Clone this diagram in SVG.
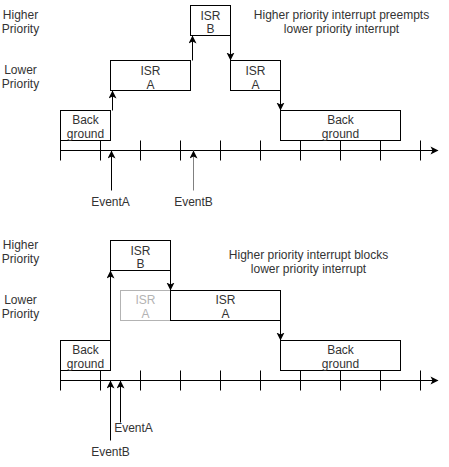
<svg xmlns="http://www.w3.org/2000/svg" width="449" height="467" viewBox="0 0 449 467">
<defs>
<style>
text{font-family:"Liberation Sans",Arial,Helvetica,sans-serif;font-size:12px;fill:#333;text-anchor:middle}
.box{fill:#fff;stroke:#000;stroke-width:1}
.gbox{fill:#fff;stroke:#b3b3b3;stroke-width:1}
.gtxt{fill:#b3b3b3}
.ln{fill:none;stroke:#000;stroke-width:1}
.gln{fill:none;stroke:#808080;stroke-width:1}
.arr{marker-end:url(#ah)}
</style>
<marker id="ah" markerUnits="userSpaceOnUse" markerWidth="10" markerHeight="10" refX="8" refY="4" orient="auto">
<path d="M0,0 L8,4 L0,8 L2,4 z" fill="#000"/>
</marker>
</defs>
<rect width="449" height="467" fill="#fff"/>
<g transform="translate(0.5,0.5)">
<g id="labels">
<text x="20" y="18">Higher</text>
<text x="20" y="32">Priority</text>
<text x="20" y="73">Lower</text>
<text x="20" y="87">Priority</text>
<text x="341" y="18">Higher priority interrupt preempts</text>
<text x="341" y="32">lower priority interrupt</text>
<text x="20" y="248">Higher</text>
<text x="20" y="262">Priority</text>
<text x="20" y="303">Lower</text>
<text x="20" y="317">Priority</text>
<text x="308" y="258">Higher priority interrupt blocks</text>
<text x="308" y="272">lower priority interrupt</text>
</g>
<g id="timeline1">
<path class="ln" d="M60,150 H437"/>
<path d="M438,150 L430,146 L432,150 L430,154 z" fill="#000"/>
<path class="ln" d="M60,140V160M100,140V160M140,140V160M180,140V160M220,140V160M260,140V160M300,140V160M340,140V160M380,140V160M420,140V160"/>
</g>
<g id="timeline2">
<path class="ln" d="M60,380 H437"/>
<path d="M438,380 L430,376 L432,380 L430,384 z" fill="#000"/>
<path class="ln" d="M60,370V390M100,370V390M140,370V390M180,370V390M220,370V390M260,370V390M300,370V390M340,370V390M380,370V390M420,370V390"/>
</g>
<g id="bg1">
<rect class="box" x="60" y="110" width="50" height="30"/>
<text x="85" y="123">Back</text>
<text x="85" y="137">ground</text>
</g>
<g id="isrA1">
<rect class="box" x="110" y="60" width="80" height="30"/>
<text x="150" y="74">ISR</text>
<text x="150" y="88">A</text>
</g>
<g id="isrB1">
<rect class="box" x="190" y="5" width="40" height="30"/>
<text x="210" y="19">ISR</text>
<text x="210" y="32">B</text>
</g>
<g id="isrA1b">
<rect class="box" x="230" y="60" width="50" height="30"/>
<text x="255" y="74">ISR</text>
<text x="255" y="88">A</text>
</g>
<g id="bg1b">
<rect class="box" x="280" y="110" width="120" height="30"/>
<text x="340" y="123">Back</text>
<text x="340" y="137">ground</text>
</g>
<g id="eventA1">
<text x="110" y="205">EventA</text>
</g>
<g id="eventB1">
<text x="193" y="205">EventB</text>
</g>
<g id="bg2">
<rect class="box" x="60" y="340" width="50" height="30"/>
<text x="85" y="353">Back</text>
<text x="85" y="367">ground</text>
</g>
<g id="isrB2">
<rect class="box" x="110" y="240" width="60" height="30"/>
<text x="140" y="254">ISR</text>
<text x="140" y="267">B</text>
</g>
<g id="isrA2gray">
<rect class="gbox" x="120" y="290" width="50" height="30"/>
<text class="gtxt" x="145" y="303">ISR</text>
<text class="gtxt" x="145" y="317">A</text>
</g>
<g id="isrA2">
<rect class="box" x="170" y="290" width="110" height="30"/>
<text x="225" y="303">ISR</text>
<text x="225" y="317">A</text>
</g>
<g id="bg2b">
<rect class="box" x="280" y="340" width="120" height="30"/>
<text x="340" y="353">Back</text>
<text x="340" y="367">ground</text>
</g>
<g id="eventA2">
<text x="133" y="431">EventA</text>
</g>
<g id="eventB2">
<text x="110" y="455">EventB</text>
</g>
<g id="connectors">
<path class="ln arr" d="M112,110 V90"/>
<path class="ln arr" d="M192,60 V35"/>
<path class="ln arr" d="M230,35 V60"/>
<path class="ln arr" d="M280,90 V110"/>
<path class="ln arr" d="M111,190 V150"/>
<path class="gln arr" d="M193,190 V150"/>
<path class="ln arr" d="M110,340 V270"/>
<path class="ln arr" d="M170,270 V290"/>
<path class="ln arr" d="M280,320 V340"/>
<path class="ln arr" d="M110,440 V380"/>
<path class="ln arr" d="M120,422 V380"/>
</g>
</g>
</svg>
